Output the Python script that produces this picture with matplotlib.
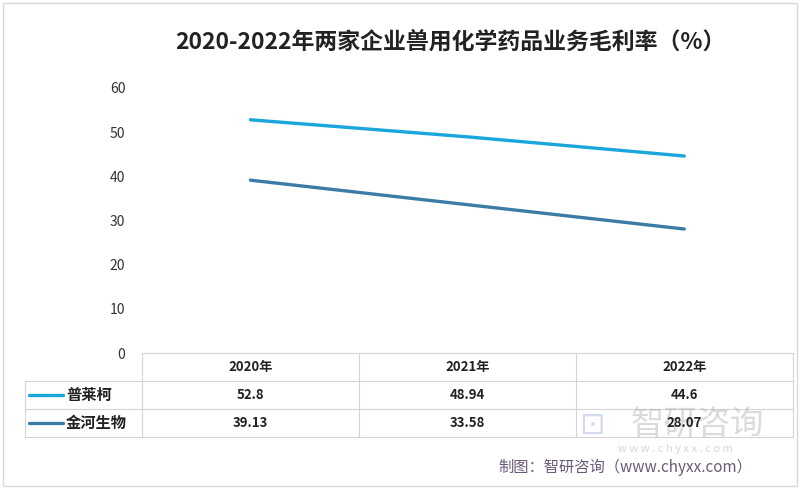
import matplotlib.pyplot as plt
from matplotlib.lines import Line2D
from matplotlib.patches import Rectangle

plt.rcParams['font.family'] = ['Noto Sans CJK SC', 'DejaVu Sans']

# data
years = ['2020年', '2021年', '2022年']
series_names = ['普莱柯', '金河生物']
pulike = [52.8, 48.94, 44.6]
jinhe = [39.13, 33.58, 28.07]
colors = ['#1aa6dc', '#3b7ca6']

fig = plt.figure(figsize=(8, 4.88), dpi=100)
fig.patch.set_facecolor('white')

# light outer frame
fig.add_artist(Rectangle((0.004, 0.004), 0.992, 0.99, transform=fig.transFigure,
                         fill=False, edgecolor='#d8d8d8', lw=1))

ax = fig.add_axes([0.1775, 0.2766, 0.8135, 0.5431])
x = [0.5, 1.5, 2.5]
for vals, c in zip([pulike, jinhe], colors):
    ax.plot(x, vals, color=c, lw=2.4, solid_capstyle='round')
ax.set_xlim(0, 3)
ax.set_ylim(0, 60)
ax.set_yticks(range(0, 61, 10))
ax.set_xticks([])
for s in ax.spines.values():
    s.set_visible(False)
ax.tick_params(axis='y', length=0, labelsize=10, colors='#333333', pad=12)

fig.text(0.5625, 0.913, '2020-2022年两家企业兽用化学药品业务毛利率（%）',
         ha='center', va='center', fontsize=16.5, fontweight='bold', color='#222222')

# table under the plot (pixel layout converted to figure fraction)
W, H = 800, 488
def fx(px): return px / W
def fy(py): return 1 - py / H

grid = '#d4d4d4'
col_edges = [142, 359, 576, 793]
row_edges = [353, 381, 409, 437]
fig.add_artist(Line2D([fx(142), fx(793)], [fy(353), fy(353)], color=grid, lw=0.8))
for r in row_edges[1:]:
    fig.add_artist(Line2D([fx(25), fx(793)], [fy(r), fy(r)], color=grid, lw=0.8))
for c in col_edges:
    fig.add_artist(Line2D([fx(c), fx(c)], [fy(353), fy(437)], color=grid, lw=0.8))
fig.add_artist(Line2D([fx(25), fx(25)], [fy(381), fy(437)], color=grid, lw=0.8))

# watermark (drawn below the table text)
fig.text(fx(592), fy(425), '⊡', ha='center', va='center', fontsize=22,
         color='#9fb3d6', alpha=0.45, family='DejaVu Sans')
fig.text(fx(697), fy(424), '智研咨询', ha='center', va='center', fontsize=24,
         color='#b0b0b0', alpha=0.45)
fig.text(fx(675), fy(449), 'w w w . c h y x x . c o m', ha='center', va='center',
         fontsize=8, color='#b0b0b0', alpha=0.5)

for i, yr in enumerate(years):
    cx = (col_edges[i] + col_edges[i + 1]) / 2
    fig.text(fx(cx), fy(367), yr, ha='center', va='center', fontsize=9.5,
             fontweight='bold', color='#222222')
for j, (name, vals, c) in enumerate(zip(series_names, [pulike, jinhe], colors)):
    cy = (row_edges[j + 1] + row_edges[j + 2]) / 2
    fig.add_artist(Line2D([fx(29), fx(63)], [fy(cy), fy(cy)], color=c, lw=2.4,
                          solid_capstyle='round'))
    fig.text(fx(66), fy(cy), name, ha='left', va='center', fontsize=11,
             fontweight='bold', color='#222222')
    for i, v in enumerate(vals):
        cx = (col_edges[i] + col_edges[i + 1]) / 2
        fig.text(fx(cx), fy(cy), f'{v:g}', ha='center', va='center', fontsize=9.5,
                 fontweight='bold', color='#222222')

fig.text(fx(752), fy(467), '制图：智研咨询（www.chyxx.com）', ha='right', va='center',
         fontsize=11, color='#6a5a78')

fig.savefig('out.png', dpi=100)
